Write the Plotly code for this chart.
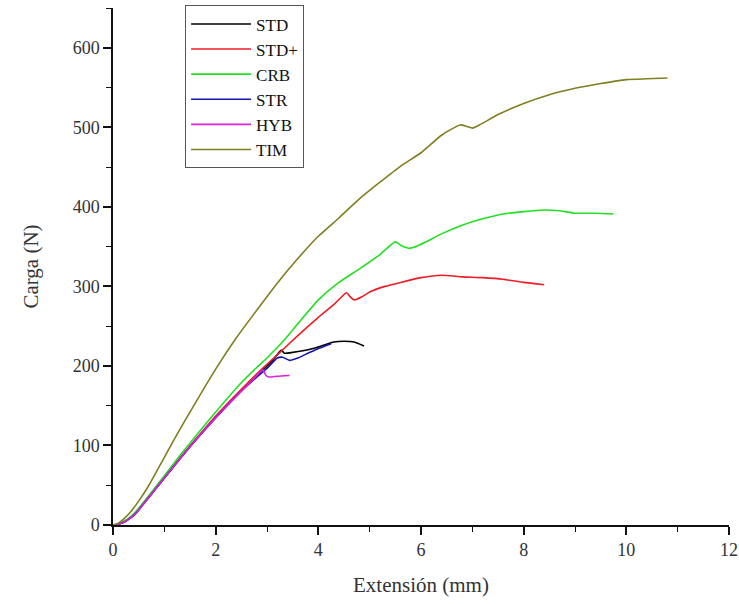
import plotly.graph_objects as go

# Data
std_x = [0, 0.1, 0.2, 0.3, 0.45, 0.6, 0.8, 1.0, 1.3, 1.6, 2.0, 2.4, 2.8, 3.1, 3.28, 3.34, 3.5, 3.7, 3.9, 4.1, 4.3, 4.5, 4.7, 4.89]
std_y = [0, 1, 3, 7, 15, 27, 43, 59, 83, 106, 135, 162, 188, 206, 220, 216, 217, 219, 222, 226, 230, 231, 230, 225]

stdp_x = [0, 0.1, 0.2, 0.35, 0.5, 0.7, 1.0, 1.3, 1.6, 2.0, 2.4, 2.8, 3.2, 3.6, 4.0, 4.3, 4.55, 4.62, 4.7, 4.85, 5.0, 5.3, 5.6, 6.0, 6.4, 6.8, 7.2, 7.6, 8.0, 8.4]
stdp_y = [0, 1, 4, 10, 20, 36, 60, 84, 107, 137, 164, 190, 214, 238, 261, 277, 292, 287, 283, 287, 293, 300, 305, 311, 314, 312, 311, 309, 305, 302]

crb_x = [0, 0.1, 0.2, 0.35, 0.5, 0.7, 1.0, 1.3, 1.6, 2.0, 2.4, 2.8, 3.0, 3.3, 3.6, 4.0, 4.4, 4.8, 5.2, 5.5, 5.62, 5.76, 5.9, 6.1, 6.4, 6.8, 7.2, 7.6, 8.0, 8.4, 8.7, 9.0, 9.4, 9.75]
crb_y = [0, 1, 4, 11, 21, 37, 62, 87, 111, 142, 172, 198, 210, 230, 253, 283, 305, 322, 340, 356, 351, 348, 350, 356, 366, 377, 385, 391, 394, 396, 395, 392, 392, 391]

str_x = [0, 0.1, 0.2, 0.3, 0.45, 0.6, 0.8, 1.0, 1.3, 1.6, 2.0, 2.4, 2.8, 3.0, 3.2, 3.3, 3.44, 3.6, 3.8, 4.0, 4.25]
str_y = [0, 1, 3, 7, 15, 27, 43, 59, 83, 106, 135, 162, 186, 197, 210, 211, 207, 210, 216, 222, 228]

hyb_x = [0, 0.1, 0.2, 0.3, 0.45, 0.6, 0.8, 1.0, 1.3, 1.6, 2.0, 2.4, 2.7, 2.92, 2.98, 3.05, 3.2, 3.44]
hyb_y = [0, 1, 3, 7, 15, 27, 43, 59, 83, 106, 135, 162, 181, 195, 188, 186, 187, 188]

tim_x = [0, 0.1, 0.2, 0.35, 0.5, 0.7, 1.0, 1.3, 1.6, 2.0, 2.4, 2.8, 3.2, 3.6, 4.0, 4.4, 4.8, 5.2, 5.6, 6.0, 6.4, 6.76, 6.9, 7.0, 7.14, 7.5, 8.0, 8.5, 9.0, 9.5, 10.0, 10.4, 10.8]
tim_y = [0, 2, 7, 17, 30, 50, 85, 120, 153, 196, 235, 270, 304, 335, 363, 386, 410, 431, 451, 468, 490, 503, 501, 499, 503, 516, 530, 541, 549, 555, 560, 561, 562]

series = [
    ("STD", std_x, std_y, "#000000"),
    ("STD+", stdp_x, stdp_y, "#ee1c24"),
    ("CRB", crb_x, crb_y, "#22e022"),
    ("STR", str_x, str_y, "#1515b0"),
    ("HYB", hyb_x, hyb_y, "#e020e0"),
    ("TIM", tim_x, tim_y, "#7f7f20"),
]

fig = go.Figure()
for name, xs, ys, col in series:
    fig.add_trace(go.Scatter(x=xs, y=ys, mode="lines", name=name,
                             line=dict(color=col, width=1.6, shape="spline", smoothing=0.5)))

font_family = "Liberation Serif"
fig.update_layout(
    width=739, height=606,
    margin=dict(l=113, r=10, t=8, b=81, autoexpand=False),
    plot_bgcolor="white", paper_bgcolor="white",
    font=dict(family=font_family, size=18, color="#333"),
    showlegend=True,
    legend=dict(x=0.117, y=1.005, xanchor="left", yanchor="top",
                bordercolor="#555", borderwidth=1, bgcolor="white",
                font=dict(family=font_family, size=17, color="#111"),
                tracegroupgap=0, itemwidth=60),
    xaxis=dict(range=[0, 12], dtick=2, showgrid=False, zeroline=False,
               showline=True, linecolor="#111", linewidth=1.5,
               ticks="outside", ticklen=8, tickwidth=1.5, tickcolor="#111",
               ticklabeloverflow="allow", automargin=False,
               minor=dict(ticks="outside", ticklen=5, dtick=1, tickwidth=1.2, tickcolor="#111", showgrid=False),
               title=dict(text="Extensión (mm)", font=dict(size=21), standoff=18)),
    yaxis=dict(range=[0, 650], dtick=100, showgrid=False, zeroline=False,
               showline=True, linecolor="#111", linewidth=1.5,
               ticks="outside", ticklen=8, tickwidth=1.5, tickcolor="#111",
               automargin=False,
               minor=dict(ticks="outside", ticklen=5, dtick=50, tickwidth=1.2, tickcolor="#111", showgrid=False),
               title=dict(text="Carga (N)", font=dict(size=21), standoff=28)),
)

fig.write_html("out.html")
